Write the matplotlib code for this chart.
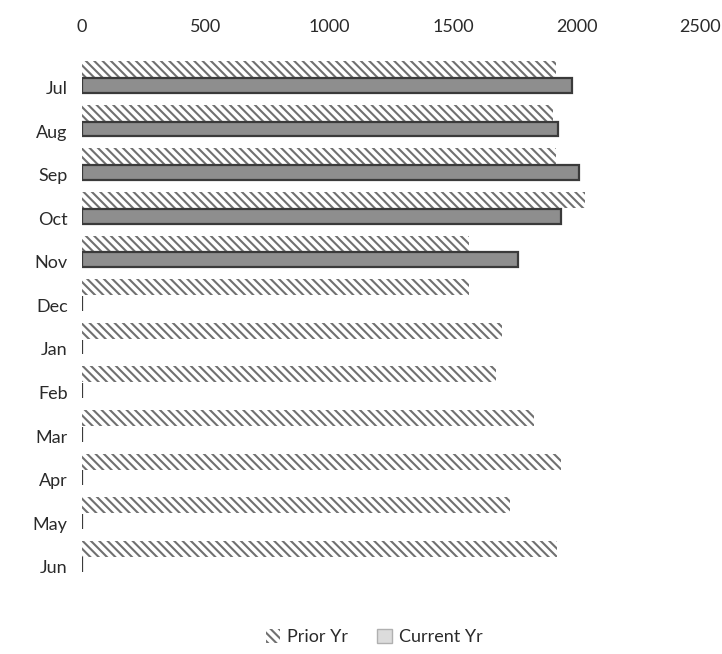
import numpy as np
import matplotlib
matplotlib.use('Agg')
import matplotlib.pyplot as plt

months = ['Jul', 'Aug', 'Sep', 'Oct', 'Nov', 'Dec', 'Jan', 'Feb', 'Mar', 'Apr', 'May', 'Jun']
prior_yr = [1916, 1905, 1916, 2034, 1566, 1566, 1699, 1676, 1829, 1939, 1730, 1920]
current_yr = [1981, 1924, 2011, 1935, 1764, 0, 0, 0, 0, 0, 0, 0]
xticks = [0, 500, 1000, 1500, 2000, 2500]

plt.rcParams['font.family'] = ['Lato', 'DejaVu Sans']
plt.rcParams['hatch.linewidth'] = 1.5

fig = plt.figure(figsize=(7.22, 6.54), dpi=100)
ax = fig.add_axes([0.113, 0.1086, 0.857, 0.813])

y = np.arange(len(months))
h = 0.37

ax.barh(y - h / 2, prior_yr, height=h, color='white', edgecolor='#707070',
        hatch='\\\\\\\\', linewidth=0, label='Prior Yr')
ax.barh(y + h / 2, current_yr, height=h * 0.92, color='#8e8e8e', edgecolor='#3a3a3a',
        linewidth=1.6, label='Current Yr')

ax.set_xlim(0, 2500)
ax.set_ylim(11.6, -0.6)
# category labels sit a little low against the bar pairs in the original
ax.set_yticks(y + 0.23)
ax.set_yticklabels(months, fontsize=13, color='#2a2a2a')
ax.set_xticks(xticks)
ax.set_xticklabels([str(t) for t in xticks], fontsize=13, color='#2a2a2a')
ax.xaxis.tick_top()
ax.tick_params(axis='y', length=0, pad=10)
ax.tick_params(axis='x', length=0, pad=12)
for s in ax.spines.values():
    s.set_visible(False)

leg = fig.legend(loc='center', ncol=2, frameon=False, fontsize=13,
                 bbox_to_anchor=(0.518, 0.026), handlelength=0.8, handleheight=0.8,
                 columnspacing=1.6, handletextpad=0.4)
for t in leg.get_texts():
    t.set_color('#2a2a2a')
leg.get_patches()[1].set_facecolor('#dcdcdc')
leg.get_patches()[1].set_edgecolor('#b0b0b0')
leg.get_patches()[1].set_linewidth(1)

fig.savefig('out.png', dpi=100)
